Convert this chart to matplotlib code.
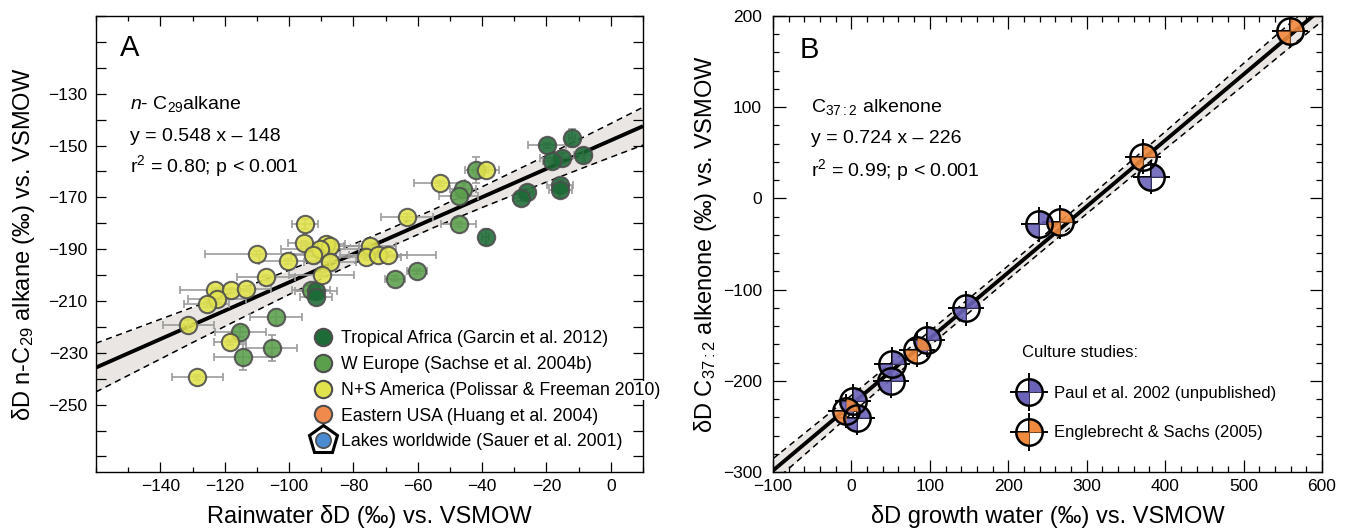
import matplotlib
matplotlib.use("Agg")
import numpy as np
import matplotlib.pyplot as plt
from matplotlib.path import Path
from matplotlib.lines import Line2D
from matplotlib.legend_handler import HandlerTuple
from matplotlib.ticker import MultipleLocator, FixedLocator, FuncFormatter

plt.rcParams["font.family"] = ["Liberation Sans", "DejaVu Sans"]
plt.rcParams["mathtext.fontset"] = "custom"
plt.rcParams["mathtext.rm"] = "Liberation Sans"
plt.rcParams["mathtext.it"] = "Liberation Sans:italic"

# ---- panel A: n-C29 alkane vs rainwater dD ----
africa_x = [-12.0, -19.8, -8.7, -15.1, -18.2, -15.9, -15.7, -26.2, -27.8, -38.9, -91.7, -91.7]
africa_y = [-147.1, -149.9, -153.8, -154.7, -155.9, -165.3, -167.2, -167.8, -170.4, -185.4, -206.2, -208.4]
africa_xerr = [1.0, 5.9, 2.8, 7.0, 3.0, 4.0, 3.5, 2.0, 2.5, 1.0, 6.5, 5.0]
africa_yerr = [3.5, 1.0, 3.0, 2.0, 1.0, 2.0, 2.5, 1.0, 1.0, 3.0, 1.0, 1.0]

europe_x = [-41.8, -45.9, -47.3, -47.3, -60.2, -67.1, -93.2, -104.1, -115.1, -105.4, -114.3]
europe_y = [-159.4, -166.6, -169.5, -180.4, -198.6, -201.4, -205.8, -216.2, -221.9, -228.2, -231.7]
europe_xerr = [3.5, 4.0, 6.0, 5.4, 3.0, 3.0, 6.0, 8.0, 8.0, 8.0, 9.0]
europe_yerr = [5.0, 2.0, 1.0, 1.0, 1.0, 1.0, 1.0, 3.0, 2.0, 5.0, 5.0]

america_x = [-38.9, -53.2, -63.3, -95.1, -95.3, -88.6, -87.3, -90.4, -92.5, -87.3, -89.9, -110.1, -100.3,
             -107.3, -123.0, -118.1, -113.5, -122.5, -125.6, -131.3, -118.4, -128.5, -74.9, -76.2, -72.5, -69.2]
america_y = [-159.4, -164.5, -177.6, -180.4, -187.7, -187.9, -188.6, -189.8, -192.1, -194.9, -199.9, -191.7, -194.6,
             -200.8, -205.8, -205.8, -205.2, -209.3, -211.2, -219.4, -226.0, -239.5, -188.6, -193.0, -192.1, -192.1]
america_xerr = [4, 8, 8, 4, 5, 6, 9, 12, 7, 8, 10, 16, 9, 9, 11, 6, 8, 9, 7, 8, 5, 8, 8, 11, 9, 15]
america_yerr = [1, 1, 1, 2, 1, 1, 1, 1, 1, 2, 1, 1, 1, 1, 1, 1, 1, 1, 1, 2, 1, 1, 1, 1, 1, 1]

a_slope, a_icpt = 0.548, -148
a_band_x = [-160, -145, -130, -115, -100, -85, -70, -55, -40, -25, -10, 0, 10]
a_band_hw = [9.4, 8.1, 6.8, 5.7, 4.7, 3.9, 3.5, 3.5, 4.0, 4.8, 5.8, 6.5, 7.3]

a_xticks = [-140, -120, -100, -80, -60, -40, -20, 0]
a_ylabels = [-130, -150, -170, -190, -210, -230, -250]

# ---- panel B: C37:2 alkenone vs growth water dD ----
paul_x = [2.3, 7.0, 51.6, 50.2, 96.2, 145.5, 239.4, 382.6]
paul_y = [-222.2, -240.7, -181.5, -200.0, -154.8, -120.4, -28.5, 23.3]
paul_xerr = [23, 23, 23, 23, 23, 23, 23, 23]
paul_yerr = [19, 19, 19, 19, 19, 19, 19, 19]

engl_x = [-7.0, 83.6, 266.2, 372.3, 559.6]
engl_y = [-233.3, -165.9, -25.9, 45.6, 184.1]
engl_xerr = [23, 23, 23, 23, 23]
engl_yerr = [19, 19, 19, 19, 19]

b_slope, b_icpt = 0.724, -226
b_band_x = [-100, 0, 100, 200, 300, 400, 500, 600]
b_band_hw = [13, 10, 8, 7.5, 8, 9.5, 12, 14]

C_AFRICA = "#1d6b36"
C_EUROPE = "#5b9f4c"
C_AMERICA = "#e1e34c"
C_USA = "#f08a4c"
C_LAKES = "#4a8bd2"
C_PURPLE = "#6b63b8"
C_ORANGE = "#f08a3e"
BAND = "#e9e6e3"


def minus(v):
    return f"{int(round(v))}".replace("-", "\u2212")


def style_axes(ax):
    for s in ax.spines.values():
        s.set_linewidth(1.0)
    ax.tick_params(which="both", direction="in", top=True, right=True, width=0.9, labelsize=12.5)
    ax.tick_params(which="major", length=7)
    ax.tick_params(which="minor", length=3.5)


def draw_band(ax, bx, bhw, slope, icpt, xlim):
    bx = np.array(bx, float)
    yc = slope * bx + icpt
    hw = np.array(bhw, float)
    ax.fill_between(bx, yc - hw, yc + hw, color=BAND, lw=0, zorder=1)
    ax.plot(bx, yc + hw, color="black", lw=1.1, ls=(0, (4, 3)), zorder=2)
    ax.plot(bx, yc - hw, color="black", lw=1.1, ls=(0, (4, 3)), zorder=2)
    xs = np.array(xlim, float)
    ax.plot(xs, slope * xs + icpt, color="black", lw=2.8, zorder=2.2, solid_capstyle="butt")


fig = plt.figure(figsize=(13.58, 5.31), dpi=100)
axA = fig.add_axes([96 / 1358, 59 / 531, 547 / 1358, 456 / 531])
axB = fig.add_axes([773 / 1358, 59 / 531, 549 / 1358, 456 / 531])

# ---------- A ----------
a_xlim, a_ylim = (-160, 10), (-276, -100)
draw_band(axA, a_band_x, a_band_hw, a_slope, a_icpt, a_xlim)
groups = [
    (europe_x, europe_y, europe_xerr, europe_yerr, C_EUROPE),
    (africa_x, africa_y, africa_xerr, africa_yerr, C_AFRICA),
    (america_x, america_y, america_xerr, america_yerr, C_AMERICA),
]
for gx, gy, gxe, gye, col in groups:
    axA.errorbar(gx, gy, xerr=gxe, yerr=gye, fmt="none", ecolor="#9c9c9c",
                 elinewidth=1.2, capsize=3, capthick=1.2, zorder=3)
    axA.plot(gx, gy, ls="none", marker="o", ms=12.5, mfc=col, mec="#4d4d4d",
             mew=1.5, alpha=0.88, zorder=4)

axA.set_xlim(*a_xlim)
axA.set_ylim(*a_ylim)
axA.xaxis.set_major_locator(FixedLocator(a_xticks))
axA.xaxis.set_minor_locator(MultipleLocator(10))
axA.xaxis.set_major_formatter(FuncFormatter(lambda v, p: minus(v)))
axA.yaxis.set_major_locator(MultipleLocator(10))
axA.yaxis.set_major_formatter(FuncFormatter(lambda v, p: minus(v) if int(round(v)) in a_ylabels else ""))
style_axes(axA)
axA.tick_params(axis="y", pad=6)
axA.tick_params(axis="x", pad=5)
axA.set_xlabel("Rainwater δD (‰) vs. VSMOW", fontsize=17, labelpad=8)
axA.set_ylabel("δD n-C$_{29}$ alkane (‰) vs. VSMOW", fontsize=17)
axA.yaxis.set_label_coords(-0.108, 0.5)

axA.text(0.044, 0.930, "A", transform=axA.transAxes, fontsize=21, va="center", ha="left")
axA.text(0.063, 0.807, "$\\mathit{n}$- C$_{29}$alkane", transform=axA.transAxes, fontsize=14, va="center")
axA.text(0.063, 0.735, "y = 0.548 x \u2013 148", transform=axA.transAxes, fontsize=14, va="center")
axA.text(0.063, 0.672, "r$^2$ = 0.80; p < 0.001", transform=axA.transAxes, fontsize=14, va="center")

mk = dict(ls="none", marker="o", ms=12.5, mec="#4d4d4d", mew=1.5)
h_lakes = (Line2D([], [], ls="none", marker="p", ms=21, mfc="white", mec="black", mew=2.2),
           Line2D([], [], ls="none", marker="o", ms=11, mfc=C_LAKES, mec="#4d4d4d", mew=1.2))
handlesA = [Line2D([], [], mfc=C_AFRICA, **mk), Line2D([], [], mfc=C_EUROPE, **mk),
            Line2D([], [], mfc=C_AMERICA, **mk), Line2D([], [], mfc=C_USA, **mk), h_lakes]
labelsA = ["Tropical Africa (Garcin et al. 2012)", "W Europe (Sachse et al. 2004b)",
           "N+S America (Polissar & Freeman 2010)", "Eastern USA (Huang et al. 2004)",
           "Lakes worldwide (Sauer et al. 2001)"]
legA = axA.legend(handlesA, labelsA, loc="upper left", bbox_to_anchor=(0.399, 0.311),
                  frameon=False, fontsize=12.7, borderpad=0, borderaxespad=0,
                  handlelength=1.0, handletextpad=0.49, labelspacing=0.5,
                  handler_map={tuple: HandlerTuple(ndivide=1, pad=0)})
legA.get_texts()[2].set_bbox(dict(facecolor="white", edgecolor="none", pad=0.5))

# ---------- B ----------
b_xlim, b_ylim = (-100, 600), (-300, 200)
draw_band(axB, b_band_x, b_band_hw, b_slope, b_icpt, b_xlim)
quad = Path.make_compound_path(Path.wedge(0, 90), Path.wedge(180, 270))
for gx, gy, gxe, gye, col in [(paul_x, paul_y, paul_xerr, paul_yerr, C_PURPLE),
                              (engl_x, engl_y, engl_xerr, engl_yerr, C_ORANGE)]:
    axB.errorbar(gx, gy, xerr=gxe, yerr=gye, fmt="none", ecolor="black",
                 elinewidth=1.4, capsize=0, zorder=2.1)
    axB.plot(gx, gy, ls="none", marker=quad, ms=19, mfc=col, mec="none", alpha=0.9, zorder=3)
    axB.plot(gx, gy, ls="none", marker="o", ms=19, mfc="none", mec="black", mew=1.8, zorder=4)

axB.set_xlim(*b_xlim)
axB.set_ylim(*b_ylim)
axB.xaxis.set_major_locator(MultipleLocator(100))
axB.xaxis.set_minor_locator(MultipleLocator(20))
axB.yaxis.set_major_locator(MultipleLocator(100))
axB.yaxis.set_minor_locator(MultipleLocator(20))
axB.xaxis.set_major_formatter(FuncFormatter(lambda v, p: minus(v)))
axB.yaxis.set_major_formatter(FuncFormatter(lambda v, p: minus(v)))
style_axes(axB)
axB.tick_params(which="major", length=9)
axB.tick_params(which="minor", length=4.5)
axB.tick_params(axis="y", pad=8)
axB.tick_params(axis="x", pad=5)
axB.set_xlabel("δD growth water (‰) vs. VSMOW", fontsize=17, labelpad=8)
axB.set_ylabel("δD C$_{37:2}$ alkenone (‰) vs. VSMOW", fontsize=17)
axB.yaxis.set_label_coords(-0.098, 0.5)

axB.text(0.049, 0.925, "B", transform=axB.transAxes, fontsize=21, va="center", ha="left")
axB.text(0.069, 0.800, "C$_{37:2}$ alkenone", transform=axB.transAxes, fontsize=14, va="center")
axB.text(0.069, 0.732, "y = 0.724 x \u2013 226", transform=axB.transAxes, fontsize=14, va="center")
axB.text(0.069, 0.662, "r$^2$ = 0.99; p < 0.001", transform=axB.transAxes, fontsize=14, va="center")
axB.text(0.454, 0.261, "Culture studies:", transform=axB.transAxes, fontsize=12, va="center")


def crosshair_handle(col):
    return (Line2D([], [], ls="none", marker="+", ms=27, mec="black", mew=1.4),
            Line2D([], [], ls="none", marker=quad, ms=19, mfc=col, mec="none"),
            Line2D([], [], ls="none", marker="o", ms=19, mfc="none", mec="black", mew=1.8))


legB = axB.legend([crosshair_handle(C_PURPLE), crosshair_handle(C_ORANGE)],
                  ["Paul et al. 2002 (unpublished)", "Englebrecht & Sachs (2005)"],
                  loc="upper left", bbox_to_anchor=(0.433, 0.189), frameon=False, fontsize=12,
                  borderpad=0, borderaxespad=0, handlelength=2.2, handletextpad=0.37,
                  labelspacing=1.48, handler_map={tuple: HandlerTuple(ndivide=1, pad=0)})

fig.savefig("out.png", dpi=100)
